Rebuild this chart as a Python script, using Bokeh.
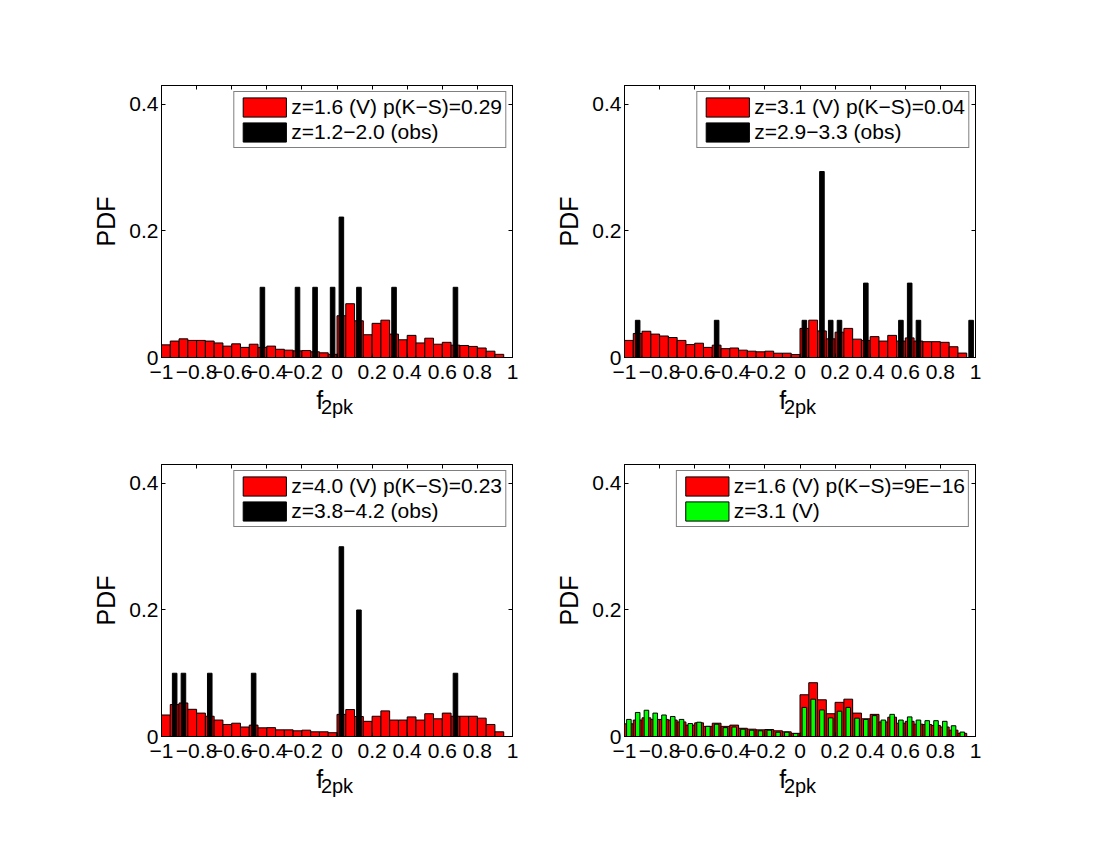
from bokeh.plotting import figure
from bokeh.layouts import column, row
from bokeh.models import Range1d, FixedTicker, LinearAxis
from bokeh.embed import file_html
from bokeh.resources import INLINE

FONT = "Liberation Sans"

# ---- bins (40 bins of width 0.05 on [-1, 1]) ----
f_bin_centers = [round(-0.975 + 0.05 * i, 3) for i in range(40)]
bin_width = 0.05
narrow_width = 0.026

x_ticks = [-1, -0.8, -0.6, -0.4, -0.2, 0, 0.2, 0.4, 0.6, 0.8, 1]
x_tick_labels = ["\u22121", "\u22120.8", "\u22120.6", "\u22120.4", "\u22120.2", "0",
                 "0.2", "0.4", "0.6", "0.8", "1"]
y_ticks = [0, 0.2, 0.4]
y_tick_labels = ["0", "0.2", "0.4"]

# ---- simulated (V) PDFs ----
pdf_v_z16 = [0.020, 0.026, 0.0295, 0.027, 0.027, 0.026, 0.023, 0.018, 0.0216, 0.016,
             0.021, 0.016, 0.018, 0.013, 0.0116, 0.0105, 0.011, 0.009, 0.0074, 0.005,
             0.066, 0.085, 0.058, 0.036, 0.054, 0.059, 0.037, 0.028, 0.035, 0.023,
             0.0305, 0.021, 0.024, 0.0195, 0.019, 0.0175, 0.015, 0.010, 0.005, 0.0]
pdf_v_z31 = [0.027, 0.038, 0.0415, 0.037, 0.034, 0.0316, 0.027, 0.0205, 0.0226, 0.016,
             0.0195, 0.014, 0.015, 0.0116, 0.010, 0.009, 0.010, 0.0068, 0.0068, 0.0047,
             0.046, 0.059, 0.042, 0.0295, 0.040, 0.046, 0.029, 0.027, 0.033, 0.026,
             0.035, 0.026, 0.031, 0.026, 0.025, 0.025, 0.024, 0.017, 0.007, 0.0]
pdf_v_z40 = [0.034, 0.0505, 0.053, 0.043, 0.037, 0.032, 0.026, 0.019, 0.021, 0.015,
             0.018, 0.0137, 0.014, 0.0105, 0.0105, 0.009, 0.010, 0.0074, 0.0074, 0.006,
             0.035, 0.0426, 0.0316, 0.024, 0.032, 0.0405, 0.026, 0.026, 0.031, 0.026,
             0.036, 0.028, 0.037, 0.032, 0.032, 0.032, 0.029, 0.019, 0.0074, 0.0]

# ---- observed PDFs (non-empty bins only) ----
obs_z12_20_f = [-0.425, -0.225, -0.125, -0.025, 0.025, 0.125, 0.325, 0.675]
obs_z12_20_pdf = [0.111, 0.111, 0.111, 0.111, 0.222, 0.111, 0.111, 0.111]
obs_z29_33_f = [-0.925, -0.475, 0.025, 0.125, 0.175, 0.225, 0.375, 0.575, 0.625, 0.675, 0.975]
obs_z29_33_pdf = [0.0588, 0.0588, 0.0588, 0.294, 0.0588, 0.0588, 0.1176, 0.0588, 0.1176, 0.0588, 0.0588]
obs_z38_42_f = [-0.925, -0.875, -0.725, -0.475, 0.025, 0.125, 0.675]
obs_z38_42_pdf = [0.1, 0.1, 0.1, 0.1, 0.3, 0.2, 0.1]

labels_tl = ["z=1.6 (V) p(K\u2212S)=0.29", "z=1.2\u22122.0 (obs)"]
labels_tr = ["z=3.1 (V) p(K\u2212S)=0.04", "z=2.9\u22123.3 (obs)"]
labels_bl = ["z=4.0 (V) p(K\u2212S)=0.23", "z=3.8\u22124.2 (obs)"]
labels_br = ["z=1.6 (V) p(K\u2212S)=9E\u221216", "z=3.1 (V)"]


def style_axis(ax, ticks, labels, show_labels):
    ax.ticker = FixedTicker(ticks=ticks)
    ax.major_label_overrides = {t: l for t, l in zip(ticks, labels)}
    ax.major_tick_in = 4
    ax.major_tick_out = 0
    ax.minor_tick_line_color = None
    ax.axis_line_color = "black"
    ax.major_tick_line_color = "black"
    ax.major_label_text_font = FONT
    ax.major_label_text_font_size = "21px"
    if show_labels:
        ax.major_label_text_color = "black"
    else:
        ax.major_label_text_color = None
        ax.major_label_standoff = 0


def make_panel(red_pdf, over_f, over_pdf, over_color, labels, bl, br, bt, bb):
    p = figure(frame_width=351, frame_height=272,
               x_range=Range1d(-1, 1), y_range=Range1d(0, 0.43),
               output_backend="svg", toolbar_location=None,
               min_border_left=bl, min_border_right=br,
               min_border_top=bt, min_border_bottom=bb,
               background_fill_color="white", border_fill_color="white")
    p.grid.visible = False
    p.outline_line_color = "black"

    p.vbar(x=f_bin_centers, top=red_pdf, width=bin_width, bottom=0,
           fill_color="#FF0000", line_color="black", line_width=1,
           legend_label=labels[0])
    p.vbar(x=over_f, top=over_pdf, width=narrow_width, bottom=0,
           fill_color=over_color, line_color="black", line_width=1,
           legend_label=labels[1])

    xa = p.xaxis[0]
    style_axis(xa, x_ticks, x_tick_labels, True)
    xa.major_label_standoff = 7
    # x label: "f" with subscript "2pk" (two stacked axis labels)
    xa.axis_label = "f" + "\u00a0" * 5
    xa.axis_label_text_font = FONT
    xa.axis_label_text_font_size = "25px"
    xa.axis_label_text_font_style = "normal"
    xa.axis_label_text_color = "black"
    xa.axis_label_standoff = 4

    sub = LinearAxis(ticker=FixedTicker(ticks=[]))
    sub.axis_line_color = None
    sub.major_tick_line_color = None
    sub.minor_tick_line_color = None
    sub.major_label_standoff = 0
    sub.axis_label = "2pk"
    sub.axis_label_text_font = FONT
    sub.axis_label_text_font_size = "20px"
    sub.axis_label_text_font_style = "normal"
    sub.axis_label_text_color = "black"
    sub.axis_label_standoff = -21
    p.add_layout(sub, "below")

    ya = p.yaxis[0]
    style_axis(ya, y_ticks, y_tick_labels, True)
    ya.major_label_standoff = 3
    ya.axis_label = "PDF"
    ya.axis_label_text_font = FONT
    ya.axis_label_text_font_size = "25px"
    ya.axis_label_text_font_style = "normal"
    ya.axis_label_text_color = "black"
    ya.axis_label_standoff = 6

    top_ax = LinearAxis()
    style_axis(top_ax, x_ticks, x_tick_labels, False)
    p.add_layout(top_ax, "above")
    right_ax = LinearAxis()
    style_axis(right_ax, y_ticks, y_tick_labels, False)
    p.add_layout(right_ax, "right")

    lg = p.legend[0]
    lg.location = "top_right"
    lg.margin = 6
    lg.padding = 3
    lg.spacing = 1
    lg.glyph_width = 54
    lg.glyph_height = 24
    lg.label_height = 24
    lg.label_standoff = 0
    lg.label_text_font = FONT
    lg.label_text_font_size = "21px"
    lg.label_text_color = "black"
    lg.border_line_color = "black"
    lg.border_line_width = 1
    lg.background_fill_color = "white"
    lg.background_fill_alpha = 1
    return p


p_tl = make_panel(pdf_v_z16, obs_z12_20_f, obs_z12_20_pdf, "black", labels_tl, 161, 30, 85, 65)
p_tr = make_panel(pdf_v_z31, obs_z29_33_f, obs_z29_33_pdf, "black", labels_tr, 82, 30, 85, 65)
p_bl = make_panel(pdf_v_z40, obs_z38_42_f, obs_z38_42_pdf, "black", labels_bl, 161, 30, 42, 65)
p_br = make_panel(pdf_v_z16, f_bin_centers, pdf_v_z31, "#00FF00", labels_br, 82, 30, 42, 65)

layout = column(row(p_tl, p_tr), row(p_bl, p_br))

with open("out.html", "w") as fh:
    fh.write(file_html(layout, INLINE))
